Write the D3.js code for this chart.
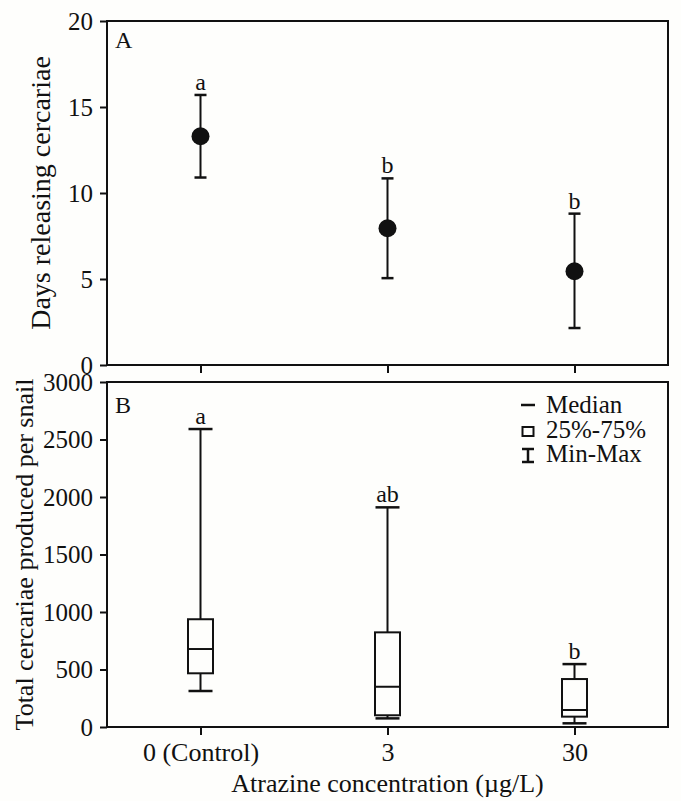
<!DOCTYPE html>
<html><head><meta charset="utf-8">
<script src="https://cdn.jsdelivr.net/npm/d3@7"></script>
<style>
body{margin:0;background:#fefefc;}
text{font-family:"Liberation Serif","Times New Roman",serif;fill:#111;}
</style></head>
<body><svg id="c" width="681" height="801"></svg>
<script>
// Data
const categories = ["0 (Control)", "3", "30"];
// Panel A: mean and error-bar limits (days releasing cercariae)
const daysMean = [13.3, 7.95, 5.45];
const daysLow  = [10.9, 5.05, 2.15];
const daysHigh = [15.7, 10.85, 8.8];
const daysLetters = ["a", "b", "b"];
// Panel B: box plot stats (total cercariae per snail)
const cercMin    = [313, 75, 32];
const cercQ1     = [467, 102, 90];
const cercMedian = [678, 350, 148];
const cercQ3     = [937, 823, 417];
const cercMax    = [2591, 1910, 547];
const cercLetters = ["a", "ab", "b"];
const ticksA = [0, 5, 10, 15, 20];
const ticksB = [0, 500, 1000, 1500, 2000, 2500, 3000];
const legendLabels = ["Median", "25%-75%", "Min-Max"];

const svg = d3.select("#c");
const L = 107, R = 668;
const x = d3.scalePoint().domain(categories).range([L, R]).padding(0.5);
const yA = d3.scaleLinear().domain([0, 20]).range([365, 21]);
const yB = d3.scaleLinear().domain([0, 3000]).range([727, 382]);
const ink = "#111";

function styleAxis(g, fs) {
  g.select(".domain").remove();
  g.selectAll(".tick line").attr("stroke", ink).attr("stroke-width", 2);
  g.selectAll(".tick text").style("font-size", fs + "px")
    .style("font-family", '"Liberation Serif","Times New Roman",serif').attr("fill", ink);
}

// Panel A
const gA = svg.append("g");
gA.append("g").attr("transform", `translate(${L},0)`)
  .call(d3.axisLeft(yA).tickValues(ticksA).tickSize(7).tickPadding(7).tickFormat(d3.format("d")))
  .call(g => styleAxis(g, 25));
gA.append("g").attr("transform", `translate(0,${yA(0)})`)
  .call(d3.axisBottom(x).tickSize(8).tickFormat(""))
  .call(g => styleAxis(g, 25));
gA.append("rect").attr("x", L).attr("y", yA(20)).attr("width", R - L).attr("height", yA(0) - yA(20))
  .attr("fill", "none").attr("stroke", ink).attr("stroke-width", 2);
gA.append("text").attr("x", 115).attr("y", 48).style("font-size", "24px").text("A");

categories.forEach((c, i) => {
  const cx = x(c);
  gA.append("line").attr("x1", cx).attr("x2", cx).attr("y1", yA(daysLow[i])).attr("y2", yA(daysHigh[i]))
    .attr("stroke", ink).attr("stroke-width", 2);
  [daysLow[i], daysHigh[i]].forEach(v => gA.append("line").attr("x1", cx - 6).attr("x2", cx + 6)
    .attr("y1", yA(v)).attr("y2", yA(v)).attr("stroke", ink).attr("stroke-width", 2.5));
  gA.append("circle").attr("cx", cx).attr("cy", yA(daysMean[i])).attr("r", 9).attr("fill", ink);
  gA.append("text").attr("x", cx).attr("y", yA(daysHigh[i]) - 5).attr("text-anchor", "middle")
    .style("font-size", "24px").text(daysLetters[i]);
});
gA.append("text").attr("transform", `translate(50,${(yA(0) + yA(20)) / 2}) rotate(-90)`)
  .attr("text-anchor", "middle").style("font-size", "28px").text("Days releasing cercariae");

// Panel B
const gB = svg.append("g");
gB.append("g").attr("transform", `translate(${L},0)`)
  .call(d3.axisLeft(yB).tickValues(ticksB).tickSize(7).tickPadding(7).tickFormat(d3.format("d")))
  .call(g => styleAxis(g, 25));
gB.append("g").attr("transform", `translate(0,${yB(0)})`)
  .call(d3.axisBottom(x).tickSize(8).tickPadding(8))
  .call(g => styleAxis(g, 26));
gB.append("rect").attr("x", L).attr("y", yB(3000)).attr("width", R - L).attr("height", yB(0) - yB(3000))
  .attr("fill", "none").attr("stroke", ink).attr("stroke-width", 2);
gB.append("text").attr("x", 115).attr("y", 413).style("font-size", "24px").text("B");

const bw = 25;
categories.forEach((c, i) => {
  const cx = x(c);
  gB.append("line").attr("x1", cx).attr("x2", cx).attr("y1", yB(cercMin[i])).attr("y2", yB(cercMax[i]))
    .attr("stroke", ink).attr("stroke-width", 2);
  [cercMin[i], cercMax[i]].forEach(v => gB.append("line").attr("x1", cx - 12).attr("x2", cx + 12)
    .attr("y1", yB(v)).attr("y2", yB(v)).attr("stroke", ink).attr("stroke-width", 2.5));
  gB.append("rect").attr("x", cx - bw / 2).attr("y", yB(cercQ3[i])).attr("width", bw)
    .attr("height", yB(cercQ1[i]) - yB(cercQ3[i])).attr("fill", "#fefefc").attr("stroke", ink).attr("stroke-width", 2);
  gB.append("line").attr("x1", cx - bw / 2).attr("x2", cx + bw / 2).attr("y1", yB(cercMedian[i])).attr("y2", yB(cercMedian[i]))
    .attr("stroke", ink).attr("stroke-width", 2);
  gB.append("text").attr("x", cx).attr("y", yB(cercMax[i]) - 5).attr("text-anchor", "middle")
    .style("font-size", "24px").text(cercLetters[i]);
});
gB.append("text").attr("transform", `translate(33,${(yB(0) + yB(3000)) / 2}) rotate(-90)`)
  .attr("text-anchor", "middle").style("font-size", "26px").text("Total cercariae produced per snail");
svg.append("text").attr("x", (L + R) / 2).attr("y", 792).attr("text-anchor", "middle")
  .style("font-size", "26px").text("Atrazine concentration (\u00b5g/L)");

// Legend
const lg = gB.append("g");
const lx = 528;
lg.append("line").attr("x1", lx - 7).attr("x2", lx + 7).attr("y1", 405).attr("y2", 405).attr("stroke", ink).attr("stroke-width", 2.5);
lg.append("rect").attr("x", lx - 5.5).attr("y", 427).attr("width", 11).attr("height", 9).attr("fill", "none").attr("stroke", ink).attr("stroke-width", 2);
lg.append("line").attr("x1", lx).attr("x2", lx).attr("y1", 449).attr("y2", 462).attr("stroke", ink).attr("stroke-width", 2.5);
[449, 462].forEach(v => lg.append("line").attr("x1", lx - 6).attr("x2", lx + 6).attr("y1", v).attr("y2", v).attr("stroke", ink).attr("stroke-width", 2.5));
legendLabels.forEach((t, i) => lg.append("text").attr("x", 546).attr("y", 413 + i * 24.5).style("font-size", "25px").text(t));
</script></body></html>
